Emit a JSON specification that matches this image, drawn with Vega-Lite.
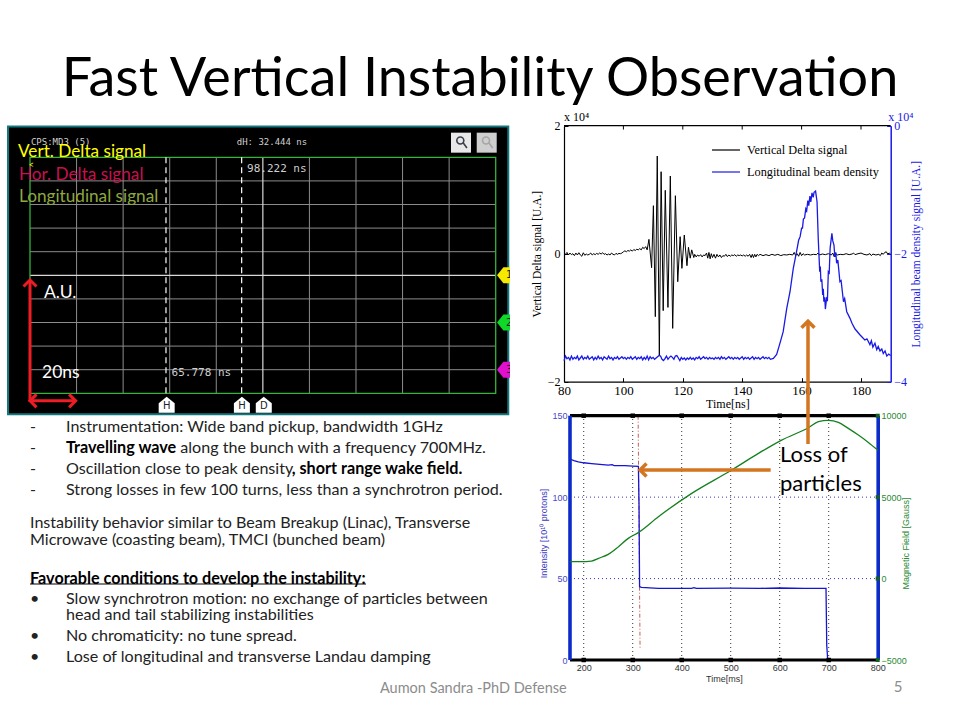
{"$schema":"https://vega.github.io/schema/vega-lite/v6.json","width":960,"height":720,"padding":0,"autosize":{"type":"none"},"background":"white","data":{"values":[{}]},"config":{"view":{"stroke":null},"axis":{"grid":false}},
"title":{"text":"Fast Vertical Instability Observation","font":"Lato","fontSize":54,"fontWeight":"normal","color":"#000000","anchor":"middle","frame":"group","offset":-150,"baseline":"alphabetic"},
"datasets":{
"vertical":[{"t":80,"v":0.01},{"t":80.5,"v":-0.01},{"t":81,"v":0.02},{"t":81.5,"v":-0.02},{"t":82,"v":0.01},{"t":82.5,"v":-0.015},{"t":83,"v":0},{"t":83.5,"v":-0.03},{"t":84,"v":0.01},{"t":84.5,"v":-0.02},{"t":85,"v":0.015},{"t":85.5,"v":-0.02},{"t":86,"v":-0.04},{"t":86.5,"v":0.015},{"t":87,"v":-0.025},{"t":87.5,"v":-0.005},{"t":88,"v":-0.02},{"t":88.5,"v":-0.01},{"t":89,"v":0.01},{"t":89.5,"v":-0.02},{"t":90,"v":0},{"t":90.5,"v":-0.015},{"t":91,"v":0.005},{"t":91.5,"v":-0.01},{"t":92,"v":0.01},{"t":92.5,"v":-0.005},{"t":93,"v":0.015},{"t":93.5,"v":-0.01},{"t":94,"v":0},{"t":94.5,"v":-0.02},{"t":95,"v":-0.005},{"t":95.5,"v":-0.02},{"t":96,"v":0.01},{"t":96.5,"v":-0.01},{"t":97,"v":-0.02},{"t":97.5,"v":0.005},{"t":98,"v":-0.01},{"t":98.5,"v":0.005},{"t":99,"v":0},{"t":99.5,"v":0.01},{"t":100,"v":0.03},{"t":100.5,"v":0.045},{"t":101,"v":0.03},{"t":101.5,"v":0.05},{"t":102,"v":0.04},{"t":102.5,"v":0.06},{"t":103,"v":0.04},{"t":103.5,"v":0.065},{"t":104,"v":0.05},{"t":104.5,"v":0.07},{"t":105,"v":0.06},{"t":105.5,"v":0.08},{"t":106,"v":0.06},{"t":106.5,"v":0.1},{"t":107,"v":0.08},{"t":107.5,"v":0.11},{"t":108,"v":0.06},{"t":108.6,"v":0.224},{"t":109.5,"v":-0.219},{"t":110.1,"v":0.75},{"t":110.75,"v":-0.984},{"t":111.4,"v":1.526},{"t":112.1,"v":-1.583},{"t":112.7,"v":1.281},{"t":113.4,"v":-0.89},{"t":114.1,"v":0.99},{"t":115,"v":-0.839},{"t":115.8,"v":1.214},{"t":116.6,"v":-1.167},{"t":117.5,"v":0.906},{"t":118.3,"v":-0.4375},{"t":119.1,"v":0.266},{"t":119.7,"v":-0.229},{"t":120.5,"v":0.292},{"t":121.4,"v":-0.1875},{"t":121.9,"v":0.1},{"t":122.5,"v":-0.07},{"t":123,"v":0.06},{"t":123.7,"v":-0.06},{"t":124,"v":-0.01},{"t":124.5,"v":-0.05},{"t":125,"v":-0.02},{"t":125.5,"v":-0.04},{"t":126,"v":-0.015},{"t":126.5,"v":-0.05},{"t":127,"v":-0.02},{"t":127.5,"v":-0.03},{"t":128,"v":0.01},{"t":128.4,"v":-0.07},{"t":128.8,"v":0.02},{"t":129.2,"v":-0.08},{"t":129.6,"v":0},{"t":130,"v":-0.06},{"t":130.5,"v":-0.01},{"t":131,"v":-0.07},{"t":131.5,"v":-0.01},{"t":132,"v":-0.05},{"t":132.5,"v":-0.02},{"t":133,"v":-0.06},{"t":133.5,"v":-0.03},{"t":134,"v":-0.04},{"t":134.5,"v":-0.01},{"t":135,"v":-0.045},{"t":135.5,"v":-0.02},{"t":136,"v":-0.04},{"t":136.5,"v":-0.02},{"t":137,"v":-0.03},{"t":137.5,"v":-0.015},{"t":138,"v":-0.04},{"t":138.5,"v":-0.02},{"t":139,"v":-0.03},{"t":139.5,"v":-0.02},{"t":140,"v":-0.035},{"t":140.5,"v":-0.02},{"t":141,"v":-0.04},{"t":141.5,"v":-0.02},{"t":142,"v":-0.04},{"t":142.5,"v":-0.01},{"t":143,"v":-0.06},{"t":143.4,"v":-0.01},{"t":143.8,"v":-0.06},{"t":144.2,"v":-0.01},{"t":144.6,"v":-0.05},{"t":145,"v":-0.01},{"t":145.5,"v":-0.03},{"t":146,"v":-0.01},{"t":147,"v":-0.03},{"t":148,"v":-0.015},{"t":149,"v":-0.03},{"t":150,"v":-0.01},{"t":151,"v":-0.025},{"t":152,"v":-0.01},{"t":153,"v":-0.03},{"t":154,"v":-0.015},{"t":155,"v":-0.02},{"t":156,"v":-0.01},{"t":157,"v":-0.02},{"t":157.5,"v":0.02},{"t":158,"v":-0.03},{"t":158.5,"v":0},{"t":159,"v":-0.04},{"t":159.5,"v":0.02},{"t":160,"v":-0.03},{"t":160.5,"v":0},{"t":161,"v":-0.02},{"t":162,"v":-0.01},{"t":163,"v":-0.02},{"t":164,"v":-0.01},{"t":165,"v":-0.015},{"t":165.5,"v":0.01},{"t":166,"v":-0.02},{"t":167,"v":-0.005},{"t":168,"v":-0.015},{"t":169,"v":0},{"t":170,"v":-0.02},{"t":170.5,"v":0.01},{"t":171,"v":-0.05},{"t":171.5,"v":0},{"t":172,"v":-0.02},{"t":173,"v":-0.01},{"t":174,"v":-0.015},{"t":175,"v":0},{"t":176,"v":-0.015},{"t":177,"v":-0.005},{"t":177.5,"v":0.01},{"t":178,"v":-0.015},{"t":179,"v":0},{"t":180,"v":0.01},{"t":181,"v":-0.01},{"t":182,"v":-0.02},{"t":183,"v":0},{"t":183.5,"v":-0.03},{"t":184,"v":-0.005},{"t":185,"v":-0.02},{"t":186,"v":-0.01},{"t":186.5,"v":-0.03},{"t":187,"v":0.01},{"t":187.5,"v":-0.01},{"t":188,"v":0.02},{"t":188.5,"v":0.03},{"t":189,"v":-0.005},{"t":189.5,"v":0.01},{"t":190,"v":-0.01}],
"density":[{"t":80,"v":-3.67},{"t":80.5,"v":-3.6},{"t":81,"v":-3.64},{"t":81.5,"v":-3.62},{"t":82,"v":-3.66},{"t":82.5,"v":-3.6},{"t":83,"v":-3.65},{"t":83.5,"v":-3.62},{"t":84,"v":-3.64},{"t":84.5,"v":-3.6},{"t":85,"v":-3.66},{"t":85.5,"v":-3.63},{"t":86,"v":-3.6},{"t":86.5,"v":-3.65},{"t":87,"v":-3.62},{"t":87.5,"v":-3.64},{"t":88,"v":-3.6},{"t":88.5,"v":-3.65},{"t":89,"v":-3.63},{"t":89.5,"v":-3.61},{"t":90,"v":-3.66},{"t":90.5,"v":-3.62},{"t":91,"v":-3.65},{"t":91.5,"v":-3.6},{"t":92,"v":-3.64},{"t":92.5,"v":-3.62},{"t":93,"v":-3.66},{"t":93.5,"v":-3.61},{"t":94,"v":-3.63},{"t":94.5,"v":-3.65},{"t":95,"v":-3.6},{"t":95.5,"v":-3.64},{"t":96,"v":-3.62},{"t":96.5,"v":-3.66},{"t":97,"v":-3.62},{"t":97.5,"v":-3.64},{"t":98,"v":-3.61},{"t":98.5,"v":-3.65},{"t":99,"v":-3.63},{"t":99.5,"v":-3.61},{"t":100,"v":-3.64},{"t":100.5,"v":-3.62},{"t":101,"v":-3.65},{"t":101.5,"v":-3.62},{"t":102,"v":-3.64},{"t":102.5,"v":-3.61},{"t":103,"v":-3.65},{"t":103.5,"v":-3.63},{"t":104,"v":-3.61},{"t":104.5,"v":-3.65},{"t":105,"v":-3.62},{"t":105.5,"v":-3.64},{"t":106,"v":-3.61},{"t":106.5,"v":-3.66},{"t":107,"v":-3.62},{"t":107.5,"v":-3.65},{"t":108,"v":-3.6},{"t":108.5,"v":-3.66},{"t":109,"v":-3.61},{"t":109.5,"v":-3.64},{"t":110,"v":-3.62},{"t":110.5,"v":-3.65},{"t":111,"v":-3.63},{"t":111.5,"v":-3.61},{"t":112,"v":-3.59},{"t":112.5,"v":-3.6},{"t":113,"v":-3.65},{"t":113.5,"v":-3.67},{"t":114,"v":-3.64},{"t":114.5,"v":-3.6},{"t":115,"v":-3.65},{"t":115.5,"v":-3.62},{"t":116,"v":-3.6},{"t":116.5,"v":-3.62},{"t":117,"v":-3.65},{"t":117.5,"v":-3.6},{"t":118,"v":-3.59},{"t":118.5,"v":-3.63},{"t":119,"v":-3.67},{"t":119.5,"v":-3.62},{"t":120,"v":-3.65},{"t":120.5,"v":-3.63},{"t":121,"v":-3.66},{"t":121.5,"v":-3.63},{"t":122,"v":-3.65},{"t":122.5,"v":-3.62},{"t":123,"v":-3.65},{"t":123.5,"v":-3.63},{"t":124,"v":-3.66},{"t":124.5,"v":-3.62},{"t":125,"v":-3.64},{"t":125.5,"v":-3.61},{"t":126,"v":-3.65},{"t":126.5,"v":-3.63},{"t":127,"v":-3.61},{"t":127.5,"v":-3.64},{"t":128,"v":-3.62},{"t":128.5,"v":-3.65},{"t":129,"v":-3.62},{"t":129.5,"v":-3.64},{"t":130,"v":-3.63},{"t":130.5,"v":-3.65},{"t":131,"v":-3.62},{"t":131.5,"v":-3.64},{"t":132,"v":-3.62},{"t":132.5,"v":-3.65},{"t":133,"v":-3.61},{"t":133.5,"v":-3.64},{"t":134,"v":-3.62},{"t":134.5,"v":-3.65},{"t":135,"v":-3.63},{"t":135.5,"v":-3.61},{"t":136,"v":-3.64},{"t":136.5,"v":-3.62},{"t":137,"v":-3.65},{"t":137.5,"v":-3.62},{"t":138,"v":-3.64},{"t":138.5,"v":-3.62},{"t":139,"v":-3.65},{"t":139.5,"v":-3.63},{"t":140,"v":-3.61},{"t":140.5,"v":-3.65},{"t":141,"v":-3.62},{"t":141.5,"v":-3.64},{"t":142,"v":-3.62},{"t":142.5,"v":-3.65},{"t":143,"v":-3.63},{"t":143.5,"v":-3.61},{"t":144,"v":-3.65},{"t":144.5,"v":-3.62},{"t":145,"v":-3.64},{"t":145.5,"v":-3.62},{"t":146,"v":-3.65},{"t":146.5,"v":-3.63},{"t":147,"v":-3.61},{"t":147.5,"v":-3.64},{"t":148,"v":-3.62},{"t":148.5,"v":-3.64},{"t":149,"v":-3.62},{"t":149.5,"v":-3.65},{"t":150.5,"v":-3.635},{"t":151.6,"v":-3.573},{"t":152.7,"v":-3.401},{"t":153.8,"v":-3.219},{"t":155,"v":-2.854},{"t":156.1,"v":-2.594},{"t":157.2,"v":-2.229},{"t":158.3,"v":-1.969},{"t":159,"v":-1.79},{"t":159.5,"v":-1.734},{"t":160,"v":-1.6},{"t":160.3,"v":-1.6},{"t":160.6,"v":-1.46},{"t":161,"v":-1.44},{"t":161.4,"v":-1.3},{"t":161.7,"v":-1.33},{"t":162.1,"v":-1.17},{"t":162.4,"v":-1.25},{"t":162.8,"v":-1.1},{"t":163.1,"v":-1.19},{"t":163.5,"v":-1.05},{"t":163.9,"v":-1.12},{"t":164.2,"v":-1.04},{"t":164.7,"v":-1.021},{"t":165.2,"v":-1.188},{"t":165.6,"v":-1.76},{"t":166.1,"v":-2.281},{"t":166.3,"v":-2.2},{"t":166.5,"v":-2.4375},{"t":166.8,"v":-2.4},{"t":167.1,"v":-2.646},{"t":167.3,"v":-2.55},{"t":167.5,"v":-2.75},{"t":167.8,"v":-2.68},{"t":168,"v":-2.865},{"t":168.4,"v":-2.698},{"t":168.7,"v":-2.72},{"t":169,"v":-2.281},{"t":169.3,"v":-2.3},{"t":169.6,"v":-1.917},{"t":170.2,"v":-1.682},{"t":170.5,"v":-1.8},{"t":170.9,"v":-1.865},{"t":171.2,"v":-2.05},{"t":171.5,"v":-1.98},{"t":171.8,"v":-2.15},{"t":172.2,"v":-2.1},{"t":172.9,"v":-2.4375},{"t":173.3,"v":-2.42},{"t":174.1,"v":-2.75},{"t":174.5,"v":-2.7},{"t":175.2,"v":-2.906},{"t":176.3,"v":-3.01},{"t":177,"v":-3.09},{"t":178,"v":-3.177},{"t":179.7,"v":-3.27},{"t":180.5,"v":-3.31},{"t":181.3,"v":-3.349},{"t":182,"v":-3.33},{"t":183,"v":-3.42},{"t":183.5,"v":-3.36},{"t":184,"v":-3.46},{"t":184.7,"v":-3.4},{"t":185.3,"v":-3.5},{"t":185.8,"v":-3.45},{"t":186.4,"v":-3.52},{"t":187,"v":-3.49},{"t":187.5,"v":-3.56},{"t":188.1,"v":-3.52},{"t":188.7,"v":-3.6},{"t":189.3,"v":-3.57},{"t":190,"v":-3.59}],
"intensity":[{"ms":172,"i":123.4},{"ms":180,"i":122.4},{"ms":189,"i":121.7},{"ms":200,"i":121.1},{"ms":216,"i":120.6},{"ms":233,"i":120.1},{"ms":250,"i":119.7},{"ms":258,"i":119.9},{"ms":262,"i":119.4},{"ms":284,"i":119.3},{"ms":300,"i":119.1},{"ms":311.6,"i":118.9},{"ms":312.9,"i":95},{"ms":314,"i":45},{"ms":318,"i":44.6},{"ms":352,"i":44},{"ms":420,"i":44},{"ms":425,"i":44.4},{"ms":430,"i":44},{"ms":500,"i":44.1},{"ms":560,"i":44},{"ms":600,"i":44.2},{"ms":650,"i":44},{"ms":694.5,"i":44},{"ms":696,"i":9},{"ms":698,"i":0},{"ms":800,"i":0}],
"field":[{"ms":172,"b":1036},{"ms":192.5,"b":1036},{"ms":216,"b":1077},{"ms":230,"b":1241},{"ms":250,"b":1487},{"ms":271,"b":1957},{"ms":291,"b":2468},{"ms":312,"b":2836},{"ms":352.4,"b":3798},{"ms":420.4,"b":5230},{"ms":502,"b":6662},{"ms":556.5,"b":7685},{"ms":604,"b":8504},{"ms":658.5,"b":9261},{"ms":679,"b":9629},{"ms":699.3,"b":9711},{"ms":719.7,"b":9588},{"ms":740,"b":9220},{"ms":760.5,"b":8810},{"ms":781,"b":8360},{"ms":800,"b":7890}],
"slideText":[
{"s":"body","col":49.5,"line":0,"text":"Instrumentation: Wide band pickup, bandwidth 1GHz"},
{"s":"bold","col":49.5,"line":1,"text":"Travelling wave"},
{"s":"body","col":135.2,"line":1,"text":"along the bunch with a frequency 700MHz."},
{"s":"body","col":49.5,"line":2,"text":"Oscillation close to peak density"},
{"s":"bold","col":218.8,"line":2,"text":", short range wake field."},
{"s":"body","col":49.5,"line":3,"text":"Strong losses in few 100 turns, less than a synchrotron period."},
{"s":"body","col":22.5,"line":4.57,"text":"Instability behavior similar to Beam Breakup (Linac), Transverse"},
{"s":"body","col":22.5,"line":5.36,"text":"Microwave (coasting beam), TMCI (bunched beam)"},
{"s":"bold","col":22.5,"line":7.2,"text":"Favorable conditions to develop the instability:"},
{"s":"body","col":49.5,"line":8.16,"text":"Slow synchrotron motion: no exchange of particles between"},
{"s":"body","col":49.5,"line":8.96,"text":"head and tail stabilizing instabilities"},
{"s":"body","col":49.5,"line":9.96,"text":"No chromaticity: no tune spread."},
{"s":"body","col":49.5,"line":10.96,"text":"Lose of longitudinal and transverse Landau damping"},
{"s":"body","col":22.5,"line":0,"text":"-"},{"s":"body","col":22.5,"line":1,"text":"-"},{"s":"body","col":22.5,"line":2,"text":"-"},{"s":"body","col":22.5,"line":3,"text":"-"},
{"s":"body","col":22.5,"line":8.16,"text":"•"},{"s":"body","col":22.5,"line":9.96,"text":"•"},{"s":"body","col":22.5,"line":10.96,"text":"•"}]
},
"resolve":{"scale":{"x":"independent","y":"independent"},"axis":{"x":"independent","y":"independent"}},
"layer":[
{"layer":[
{"mark":{"type":"rect","fill":"#000000","stroke":"#12787e","strokeWidth":2},"encoding":{"x":{"datum":-0.472,"type":"quantitative","scale":{"domain":[0,10],"range":[30,495.7],"nice":false,"zero":false},"axis":null},"x2":{"datum":10.27},"y":{"datum":11.3,"type":"quantitative","scale":{"domain":[0,10],"range":[393.3,157.3],"nice":false,"zero":false},"axis":null},"y2":{"datum":-0.89}}},
{"data":{"values":[{"d":1},{"d":2},{"d":3},{"d":4},{"d":6},{"d":7},{"d":8},{"d":9}]},"mark":{"type":"rule","stroke":"#8c8c8c","strokeWidth":1},"encoding":{"x":{"field":"d","type":"quantitative","axis":null},"y":{"datum":0,"axis":null},"y2":{"datum":10}}},
{"data":{"values":[{"d":1},{"d":2},{"d":3},{"d":4},{"d":6},{"d":7},{"d":8},{"d":9}]},"mark":{"type":"rule","stroke":"#8c8c8c","strokeWidth":1},"encoding":{"y":{"field":"d","type":"quantitative","axis":null},"x":{"datum":0,"axis":null},"x2":{"datum":10}}},
{"mark":{"type":"rule","stroke":"#d8d8d8","strokeWidth":1.2},"encoding":{"x":{"datum":5,"axis":null},"y":{"datum":0,"axis":null},"y2":{"datum":10}}},
{"mark":{"type":"rule","stroke":"#d8d8d8","strokeWidth":1.2},"encoding":{"y":{"datum":5,"axis":null},"x":{"datum":0,"axis":null},"x2":{"datum":10}}},
{"mark":{"type":"rect","fillOpacity":0,"stroke":"#35b33a","strokeWidth":1.3},"encoding":{"x":{"datum":0,"axis":null},"x2":{"datum":10},"y":{"datum":0,"axis":null},"y2":{"datum":10}}},
{"data":{"values":[{"c":2.92},{"c":4.545}]},"mark":{"type":"rule","stroke":"#ffffff","strokeWidth":1.2,"strokeDash":[6,4]},"encoding":{"x":{"field":"c","type":"quantitative","axis":null},"y":{"datum":0,"axis":null},"y2":{"datum":10}}},
{"data":{"values":[{"m":2.935,"l":"H"},{"m":4.55,"l":"H"},{"m":5.02,"l":"D"}]},"mark":{"type":"point","filled":true,"fill":"#ffffff","opacity":1,"strokeWidth":0,"size":256,"shape":"M-1,-0.2 L0,-1 L1,-0.2 L1,1 L-1,1 Z"},"encoding":{"x":{"field":"m","type":"quantitative","axis":null},"y":{"datum":-0.49,"axis":null}}},
{"data":{"values":[{"m":2.935,"l":"H"},{"m":4.55,"l":"H"},{"m":5.02,"l":"D"}]},"mark":{"type":"text","font":"DejaVu Sans","fontSize":10,"fill":"#222222"},"encoding":{"x":{"field":"m","type":"quantitative","axis":null},"y":{"datum":-0.52,"axis":null},"text":{"field":"l"}}},
{"data":{"values":[{"n":5,"l":"1","col":"#f5ea00"},{"n":3,"l":"2","col":"#10d828"},{"n":1,"l":"3","col":"#e010d0"}]},"mark":{"type":"point","filled":true,"opacity":1,"strokeWidth":0,"size":256,"shape":"M-1,0 L-0.2,-1 L1,-1 L1,1 L-0.2,1 Z"},"encoding":{"x":{"datum":10.2,"axis":null},"y":{"field":"n","type":"quantitative","axis":null},"fill":{"field":"col","type":"nominal","scale":null,"legend":null}}},
{"data":{"values":[{"n":5,"l":"1"},{"n":3,"l":"2"},{"n":1,"l":"3"}]},"mark":{"type":"text","font":"DejaVu Sans","fontSize":10,"fill":"#222222","align":"left"},"encoding":{"x":{"datum":10.22,"axis":null},"y":{"field":"n","type":"quantitative","axis":null},"text":{"field":"l"}}},
{"data":{"values":[{"d":0.02,"h":10.66,"text":"CPS:MD3 (5)"},{"d":4.44,"h":10.66,"text":"dH: 32.444 ns"}]},"mark":{"type":"text","font":"DejaVu Sans Mono","fontSize":9,"fill":"#cfcfcf","align":"left","baseline":"middle"},"encoding":{"x":{"field":"d","type":"quantitative","axis":null},"y":{"field":"h","type":"quantitative","axis":null},"text":{"field":"text"}}},
{"data":{"values":[{"d":4.66,"h":9.5,"text":"98.222 ns"},{"d":3.04,"h":0.86,"text":"65.778 ns"}]},"mark":{"type":"text","font":"DejaVu Sans Mono","fontSize":11,"fill":"#cfcfcf","align":"left","baseline":"middle"},"encoding":{"x":{"field":"d","type":"quantitative","axis":null},"y":{"field":"h","type":"quantitative","axis":null},"text":{"field":"text"}}},
{"data":{"values":[{"d":9.255,"f":"#e8e8e8"},{"d":9.807,"f":"#cfcfcf"}]},"mark":{"type":"point","shape":"square","filled":true,"opacity":1,"strokeWidth":0,"size":400},"encoding":{"x":{"field":"d","type":"quantitative","axis":null},"y":{"datum":10.62,"axis":null},"fill":{"field":"f","type":"nominal","scale":null,"legend":null}}},
{"data":{"values":[{"d":9.255,"f":"#39404a"},{"d":9.807,"f":"#a6a6a6"}]},"mark":{"type":"point","filled":false,"opacity":1,"strokeWidth":1.6,"size":196,"shape":"M-0.1,-0.8 A0.5,0.5 0 1 1 -0.1,0.2 A0.5,0.5 0 1 1 -0.1,-0.8 M0.25,-0.05 L0.85,0.75"},"encoding":{"x":{"field":"d","type":"quantitative","axis":null},"y":{"datum":10.62,"axis":null},"stroke":{"field":"f","type":"nominal","scale":null,"legend":null}}},
{"mark":{"type":"rule","stroke":"#ee1c25","strokeWidth":3},"encoding":{"x":{"datum":0,"axis":null},"y":{"datum":-0.36,"axis":null},"y2":{"datum":4.8}}},
{"mark":{"type":"rule","stroke":"#ee1c25","strokeWidth":3},"encoding":{"y":{"datum":-0.32,"axis":null},"x":{"datum":0,"axis":null},"x2":{"datum":0.98}}},
{"mark":{"type":"point","filled":false,"opacity":1,"stroke":"#ee1c25","strokeWidth":3,"size":169,"shape":"M-1,1 L0,0 L1,1"},"encoding":{"x":{"datum":0,"axis":null},"y":{"datum":4.8,"axis":null}}},
{"mark":{"type":"point","filled":false,"opacity":1,"stroke":"#ee1c25","strokeWidth":3,"size":169,"shape":"M1,-1 L0,0 L1,1"},"encoding":{"x":{"datum":0,"axis":null},"y":{"datum":-0.32,"axis":null}}},
{"mark":{"type":"point","filled":false,"opacity":1,"stroke":"#ee1c25","strokeWidth":3,"size":169,"shape":"M-1,-1 L0,0 L-1,1"},"encoding":{"x":{"datum":0.98,"axis":null},"y":{"datum":-0.32,"axis":null}}}
]},
{"data":{"values":[{"t":100},{"t":120},{"t":140},{"t":160},{"t":180}]},"mark":{"type":"rule","stroke":"#000000","strokeWidth":1},"encoding":{"x":{"field":"t","type":"quantitative","scale":{"domain":[80,190],"range":[564,890.7],"nice":false,"zero":false},"axis":{"values":[80,100,120,140,160,180],"orient":"bottom","offset":-338.3,"title":"Time[ns]","titleFont":"Liberation Serif","titleFontSize":12,"titleFontWeight":"normal","titleColor":"#000000","titlePadding":1,"labelFont":"Liberation Serif","labelFontSize":13,"labelColor":"#000000","labelPadding":7,"tickSize":-4,"tickColor":"#000000","domainColor":"#000000","domainWidth":1.2,"labelFlush":false}},"y":{"datum":2,"type":"quantitative","scale":{"domain":[-2,2],"range":[381.7,125.7],"nice":false,"zero":false},"axis":{"values":[-2,0,2],"orient":"left","offset":-564,"title":"Vertical Delta signal [U.A.]","titleX":-27,"titleBaseline":"middle","titleFont":"Liberation Serif","titleFontSize":11.5,"titleFontWeight":"normal","titleColor":"#000000","labelFont":"Liberation Serif","labelFontSize":12,"labelColor":"#000000","labelPadding":8,"tickSize":-4,"tickColor":"#000000","domainColor":"#000000","domainWidth":1.2}},"y2":{"datum":1.94}}},
{"layer":[
{"mark":{"type":"rule","stroke":"#000000","strokeWidth":1.2},"encoding":{"y":{"datum":2,"type":"quantitative","scale":{"domain":[-2,2],"range":[381.7,125.7],"nice":false,"zero":false},"axis":null},"x":{"datum":80,"type":"quantitative","scale":{"domain":[80,190],"range":[564,890.7],"nice":false,"zero":false},"axis":null},"x2":{"datum":190}}},
{"data":{"name":"vertical"},"mark":{"type":"line","strokeWidth":1},"encoding":{"x":{"field":"t","type":"quantitative","axis":null},"y":{"field":"v","type":"quantitative","axis":null},"color":{"datum":"Vertical Delta signal","type":"nominal","scale":{"domain":["Vertical Delta signal","Longitudinal beam density"],"range":["#000000","#1a1ae6"]},"legend":{"orient":"none","legendX":711,"legendY":135,"title":null,"symbolType":"stroke","symbolSize":784,"symbolStrokeWidth":1.2,"labelFont":"Liberation Serif","labelFontSize":12.3,"labelColor":"#000000","labelOffset":6,"rowPadding":-4.6}}}},
{"mark":{"type":"text","font":"Liberation Serif","fontSize":12,"fill":"#000000","align":"left","baseline":"middle","text":"x 10⁴"},"encoding":{"x":{"datum":80,"axis":null},"y":{"datum":2.13,"axis":null}}}
]},
{"data":{"name":"density"},"mark":{"type":"line","strokeWidth":1.3},"encoding":{"x":{"field":"t","type":"quantitative","scale":{"domain":[80,190],"range":[564,890.7],"nice":false,"zero":false},"axis":null},"y":{"field":"v","type":"quantitative","scale":{"domain":[-4,0],"range":[381.7,125.7],"nice":false,"zero":false},"axis":{"values":[-4,-2,0],"orient":"right","offset":-69.3,"title":"Longitudinal beam density signal [U.A.]","titleAngle":270,"titleX":25.3,"titleBaseline":"middle","titleFont":"Liberation Serif","titleFontSize":11.5,"titleFontWeight":"normal","titleColor":"#1a1ae6","labelFont":"Liberation Serif","labelFontSize":12,"labelColor":"#1a1ae6","labelPadding":7,"tickSize":-4,"tickColor":"#1a1ae6","domainColor":"#1a1ae6","domainWidth":1.5}},"color":{"datum":"Longitudinal beam density","type":"nominal"}}},
{"mark":{"type":"text","font":"Liberation Serif","fontSize":12,"fill":"#1a1ae6","align":"left","baseline":"middle","text":"x 10⁴"},"encoding":{"x":{"datum":189.2,"type":"quantitative","scale":{"domain":[80,190],"range":[564,890.7],"nice":false,"zero":false},"axis":null},"y":{"datum":0.13,"type":"quantitative","scale":{"domain":[-4,0],"range":[381.7,125.7],"nice":false,"zero":false},"axis":null}}},
{"data":{"values":[{"ms":200},{"ms":300},{"ms":400},{"ms":500},{"ms":600},{"ms":700}]},"mark":{"type":"rule","stroke":"#333333","strokeWidth":1,"strokeDash":[1,3]},"encoding":{"x":{"field":"ms","type":"quantitative","scale":{"domain":[172,800],"range":[570,877.7],"nice":false,"zero":false},"axis":{"values":[200,300,400,500,600,700,800],"orient":"bottom","offset":-60,"title":"Time[ms]","titleFont":"Liberation Sans","titleFontSize":9,"titleFontWeight":"normal","titleColor":"#333333","titlePadding":2,"labelFont":"Liberation Sans","labelFontSize":9,"labelColor":"#333333","labelPadding":3,"tickSize":0,"domain":false,"labelFlush":false}},"y":{"datum":0,"type":"quantitative","scale":{"domain":[0,150],"range":[660,415.7],"nice":false,"zero":false},"axis":{"values":[0,50,100,150],"orient":"left","offset":-570,"title":"Intensity [10¹⁰ protons]","titleY":533,"titleX":-27,"titleBaseline":"middle","titleFont":"Liberation Sans","titleFontSize":9,"titleFontWeight":"normal","titleColor":"#3a3ac0","labelFont":"Liberation Sans","labelFontSize":9,"labelColor":"#4a4ac8","labelPadding":3,"tickSize":0,"domain":false}},"y2":{"datum":150}}},
{"layer":[
{"data":{"values":[{"i":50},{"i":100}]},"mark":{"type":"rule","stroke":"#3a3ab0","strokeWidth":1,"strokeDash":[1,3]},"encoding":{"y":{"field":"i","type":"quantitative","scale":{"domain":[0,150],"range":[660,415.7],"nice":false,"zero":false},"axis":null},"x":{"datum":172,"type":"quantitative","scale":{"domain":[172,800],"range":[570,877.7],"nice":false,"zero":false},"axis":null},"x2":{"datum":800}}},
{"data":{"values":[{"a":311,"c":150},{"a":315,"c":7}]},"mark":{"type":"line","stroke":"#c8605a","strokeWidth":1,"strokeDash":[4,2,1,2]},"encoding":{"x":{"field":"a","type":"quantitative","axis":null},"y":{"field":"c","type":"quantitative","axis":null}}},
{"data":{"name":"intensity"},"mark":{"type":"line","stroke":"#1414d2","strokeWidth":1.3},"encoding":{"x":{"field":"ms","type":"quantitative","axis":null},"y":{"field":"i","type":"quantitative","axis":null}}},
{"mark":{"type":"rule","stroke":"#000000","strokeWidth":3.2},"encoding":{"y":{"datum":150,"axis":null},"x":{"datum":172,"axis":null},"x2":{"datum":800}}},
{"mark":{"type":"rule","stroke":"#000000","strokeWidth":3.2},"encoding":{"y":{"datum":0,"axis":null},"x":{"datum":172,"axis":null},"x2":{"datum":800}}},
{"mark":{"type":"rule","stroke":"#0c2bc8","strokeWidth":3.6},"encoding":{"x":{"datum":172,"axis":null},"y":{"datum":0,"axis":null},"y2":{"datum":150}}},
{"mark":{"type":"rule","stroke":"#0c2bc8","strokeWidth":3.6},"encoding":{"x":{"datum":801,"axis":null},"y":{"datum":0,"axis":null},"y2":{"datum":150}}},
{"data":{"values":[{"ms":200},{"ms":300},{"ms":400},{"ms":500},{"ms":600},{"ms":700}]},"mark":{"type":"point","shape":"square","filled":true,"fill":"#000000","opacity":1,"strokeWidth":0,"size":20},"encoding":{"x":{"field":"ms","type":"quantitative","axis":null},"y":{"datum":150,"axis":null}}},
{"data":{"values":[{"ms":200},{"ms":300},{"ms":400},{"ms":500},{"ms":600},{"ms":700}]},"mark":{"type":"point","shape":"square","filled":true,"fill":"#000000","opacity":1,"strokeWidth":0,"size":20},"encoding":{"x":{"field":"ms","type":"quantitative","axis":null},"y":{"datum":0,"axis":null}}}
]},
{"data":{"name":"field"},"mark":{"type":"line","stroke":"#14801e","strokeWidth":1.3,"interpolate":"monotone"},"encoding":{"x":{"field":"ms","type":"quantitative","scale":{"domain":[172,800],"range":[570,877.7],"nice":false,"zero":false},"axis":null},"y":{"field":"b","type":"quantitative","scale":{"domain":[-5000,10000],"range":[660,415.7],"nice":false,"zero":false},"axis":{"values":[-5000,0,5000,10000],"orient":"right","offset":-79,"title":"Magnetic Field [Gauss]","titleAngle":270,"titleY":543,"titleX":24,"titleBaseline":"middle","titleFont":"Liberation Sans","titleFontSize":9,"titleFontWeight":"normal","titleColor":"#2a8a34","labelFont":"Liberation Sans","labelFontSize":9,"labelColor":"#2a8a34","labelPadding":0,"tickSize":0,"domain":false,"format":"d"}}}},
{"data":{"values":[{"b":-5000},{"b":0},{"b":5000},{"b":10000}]},"mark":{"type":"point","shape":"square","filled":true,"fill":"#14601e","opacity":1,"strokeWidth":0,"size":16},"encoding":{"x":{"datum":800,"type":"quantitative","scale":{"domain":[172,800],"range":[570,877.7],"nice":false,"zero":false},"axis":null},"y":{"field":"b","type":"quantitative","scale":{"domain":[-5000,10000],"range":[660,415.7],"nice":false,"zero":false},"axis":null}}},
{"layer":[
{"mark":{"type":"rect","fill":"#ffffff"},"encoding":{"x":{"datum":382.5,"type":"quantitative","scale":{"domain":[0,720],"range":[0,960],"nice":false,"zero":false},"axis":null},"x2":{"datum":392},"y":{"datum":190,"type":"quantitative","scale":{"domain":[0,540],"range":[0,720],"nice":false,"zero":false},"axis":null},"y2":{"datum":290}}},
{"data":{"values":[{"col":13.5,"row":114,"text":"Vert. Delta signal","k":"a"},{"col":14.2,"row":131,"text":"Hor. Delta signal","k":"b"},{"col":14.2,"row":148,"text":"Longitudinal signal","k":"c"}]},"mark":{"type":"text","font":"Lato","fontSize":17.2,"align":"left","baseline":"middle"},"encoding":{"x":{"field":"col","type":"quantitative","axis":null},"y":{"field":"row","type":"quantitative","axis":null},"text":{"field":"text"},"fill":{"field":"k","type":"nominal","legend":null,"scale":{"domain":["a","b","c"],"range":["#ffff00","#c8104f","#8fa83f"]}}}},
{"mark":{"type":"text","font":"Lato","fontSize":9,"fill":"#ffff00","text":"<","align":"center","baseline":"middle"},"encoding":{"x":{"datum":23.5,"axis":null},"y":{"datum":124,"axis":null}}},
{"data":{"values":[{"col":33,"row":219.5,"text":"A.U."},{"col":31.5,"row":280,"text":"20ns"}]},"mark":{"type":"text","font":"Lato","fontSize":17.5,"fill":"#ffffff","align":"left","baseline":"middle"},"encoding":{"x":{"field":"col","type":"quantitative","axis":null},"y":{"field":"row","type":"quantitative","axis":null},"text":{"field":"text"}}}
]},
{"layer":[
{"data":{"name":"slideText"},"transform":[{"filter":"datum.s=='body'"}],"mark":{"type":"text","font":"Lato","fontSize":16.1,"fill":"#222222","align":"left","baseline":"middle"},"encoding":{"x":{"field":"col","type":"quantitative","scale":{"domain":[0,720],"range":[0,960],"nice":false,"zero":false},"axis":null},"y":{"field":"line","type":"quantitative","scale":{"domain":[0,11],"range":[427.3,658.3],"nice":false,"zero":false},"axis":null},"text":{"field":"text"}}},
{"data":{"name":"slideText"},"transform":[{"filter":"datum.s=='bold'"}],"mark":{"type":"text","font":"Lato","fontSize":16.2,"fontWeight":"bold","fill":"#000000","align":"left","baseline":"middle"},"encoding":{"x":{"field":"col","type":"quantitative","axis":null},"y":{"field":"line","type":"quantitative","axis":null},"text":{"field":"text"}}},
{"mark":{"type":"rule","stroke":"#000000","strokeWidth":1.1},"encoding":{"x":{"datum":22.5,"axis":null},"x2":{"datum":274.5},"y":{"datum":7.46,"axis":null}}}
]},
{"layer":[
{"mark":{"type":"rule","stroke":"#d4751f","strokeWidth":3.5},"encoding":{"x":{"datum":606,"type":"quantitative","scale":{"domain":[0,720],"range":[0,960],"nice":false,"zero":false},"axis":null},"y":{"datum":241,"type":"quantitative","scale":{"domain":[0,540],"range":[0,720],"nice":false,"zero":false},"axis":null},"y2":{"datum":333}}},
{"mark":{"type":"rule","stroke":"#d4751f","strokeWidth":3.5},"encoding":{"y":{"datum":352.5,"axis":null},"x":{"datum":481,"axis":null},"x2":{"datum":578}}},
{"mark":{"type":"point","filled":false,"opacity":1,"stroke":"#d4751f","strokeWidth":3.5,"size":169,"shape":"M-1,1 L0,0 L1,1"},"encoding":{"x":{"datum":606,"axis":null},"y":{"datum":241,"axis":null}}},
{"mark":{"type":"point","filled":false,"opacity":1,"stroke":"#d4751f","strokeWidth":3.5,"size":169,"shape":"M1,-1 L0,0 L1,1"},"encoding":{"x":{"datum":480,"axis":null},"y":{"datum":352.5,"axis":null}}},
{"data":{"values":[{"col":585,"row":341,"text":"Loss of"},{"col":585,"row":363,"text":"particles"}]},"mark":{"type":"text","font":"Lato","fontSize":22,"fill":"#000000","align":"left","baseline":"middle"},"encoding":{"x":{"field":"col","type":"quantitative","axis":null},"y":{"field":"row","type":"quantitative","axis":null},"text":{"field":"text"}}},
{"mark":{"type":"text","font":"Lato","fontSize":14.5,"fill":"#8c8c8c","align":"center","baseline":"middle","text":"Aumon Sandra -PhD Defense"},"encoding":{"x":{"datum":355,"axis":null},"y":{"datum":517,"axis":null}}},
{"mark":{"type":"text","font":"Lato","fontSize":15,"fill":"#8c8c8c","align":"center","baseline":"middle","text":"5"},"encoding":{"x":{"datum":673.5,"axis":null},"y":{"datum":515,"axis":null}}}
]}
]}
